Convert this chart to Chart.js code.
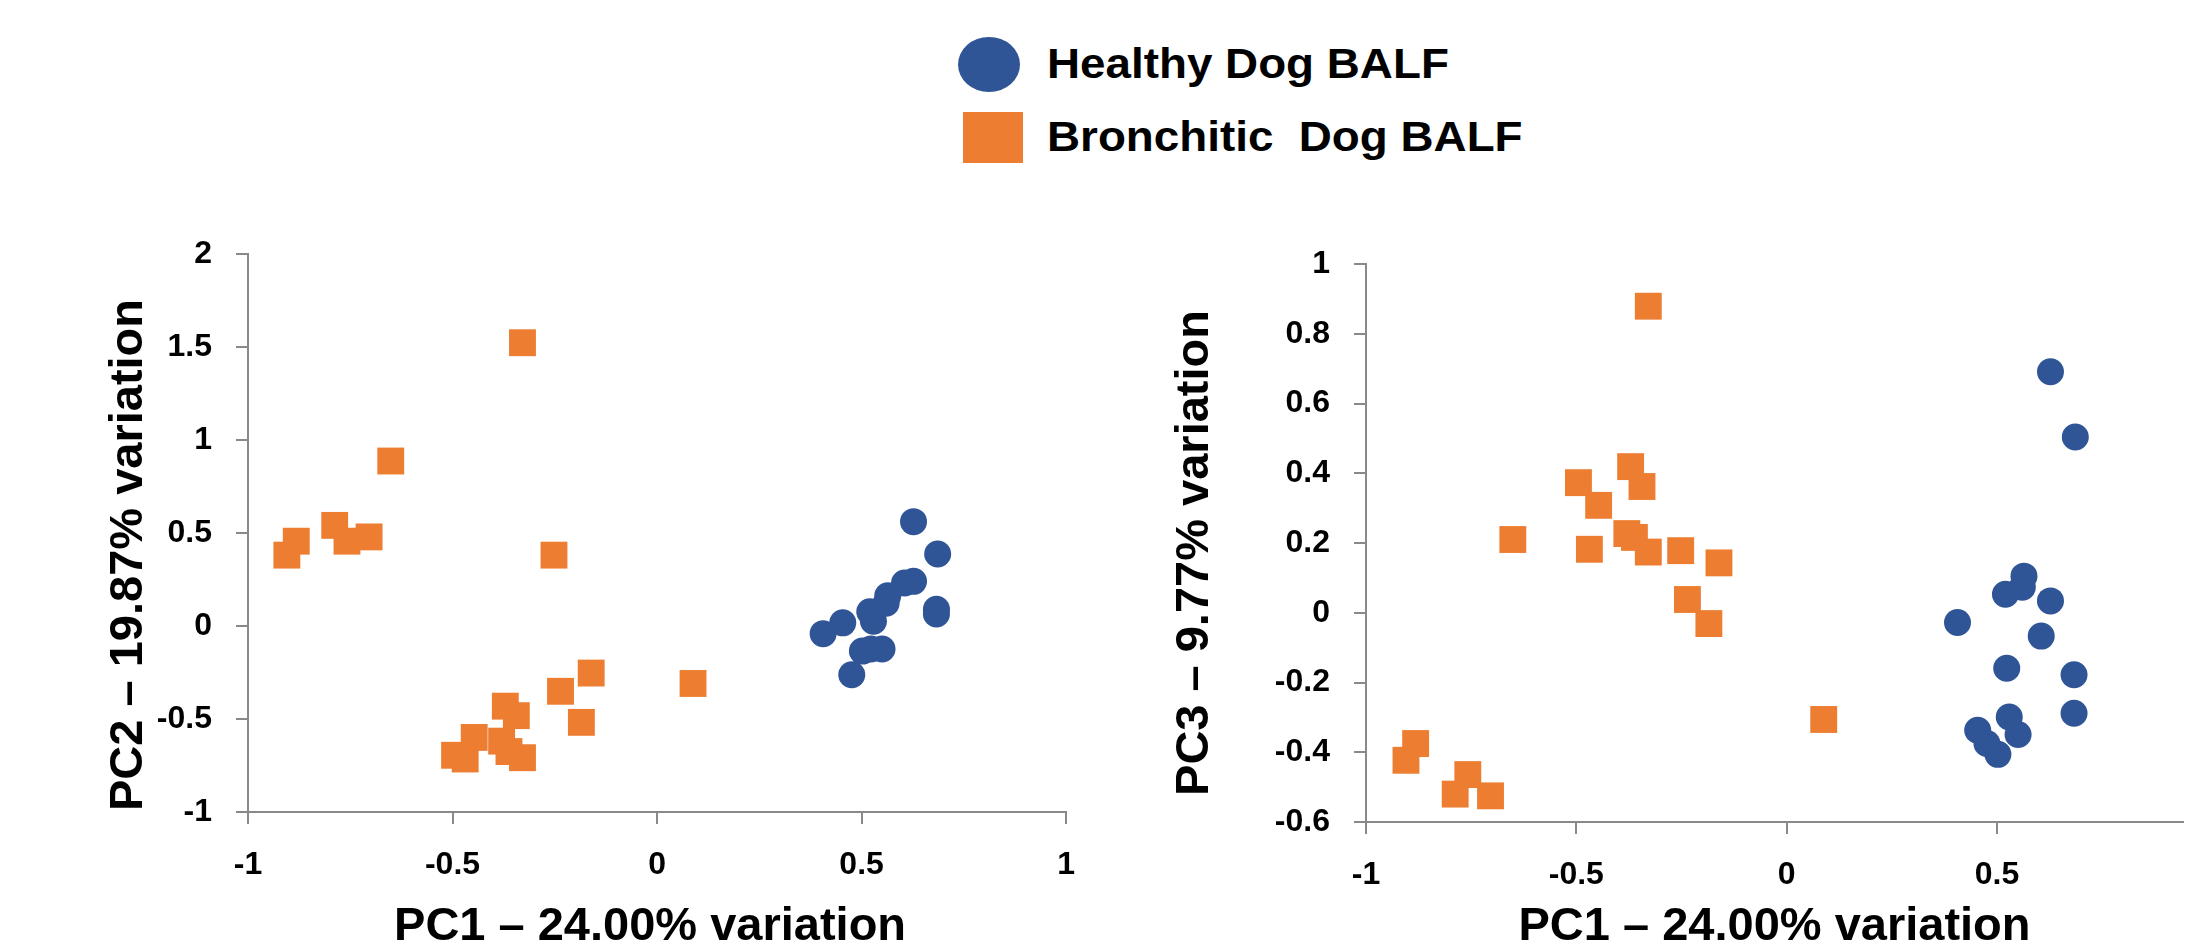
<!DOCTYPE html>
<html>
<head>
<meta charset="utf-8">
<script src="https://cdn.jsdelivr.net/npm/chart.js@4/dist/chart.umd.min.js"></script>
<style>
  body { margin: 0; background: #fff; width: 2202px; height: 949px; overflow: hidden; position: relative; font-family: "Liberation Sans", Arial, sans-serif; }
  canvas { position: absolute; top: 0; }
  #pc2 { left: 0; }
  #pc3 { left: 1100px; }
  .legend { position: absolute; left: 958px; top: 37px; }
  .row { position: absolute; left: 0; height: 60px; }
  .row span { position: absolute; left: 89px; top: 0; font-weight: bold; font-size: 42px; line-height: 60px; white-space: pre; transform: scaleX(1.09); transform-origin: left center; }
  .dot { position: absolute; left: 0; width: 62px; height: 55px; border-radius: 50%; background: #2F5597; }
  .sq { position: absolute; left: 5px; width: 60px; height: 51px; background: #ED7D31; }
</style>
</head>
<body>
<div class="legend">
  <div class="row" style="top:0"><div class="dot" style="top:0"></div><span style="top:-3px">Healthy Dog BALF</span></div>
  <div class="row" style="top:70px"><div class="sq" style="top:5px"></div><span style="top:0">Bronchitic  Dog BALF</span></div>
</div>
<canvas id="pc2" width="1100" height="949"></canvas>
<canvas id="pc3" width="1102" height="949"></canvas>
<script>
// Healthy dogs (blue circles) - same samples on both plots
var healthyPC1 = [0.406, 0.454, 0.476, 0.502, 0.520, 0.523, 0.529, 0.550, 0.560, 0.564, 0.605, 0.627, 0.627, 0.683, 0.683, 0.686];
var healthyPC2 = [-0.041, 0.017, -0.262, -0.135, 0.077, -0.124, 0.026, -0.124, 0.122, 0.162, 0.231, 0.561, 0.240, 0.065, 0.090, 0.387];
var healthyPC3 = [-0.028, -0.337, -0.375, -0.406, 0.053, -0.159, -0.299, -0.349, 0.073, 0.105, -0.067, 0.691, 0.034, -0.178, -0.288, 0.504];

// Bronchitic dogs (orange squares)
var bronchPC1 = [-0.905, -0.882, -0.788, -0.758, -0.704, -0.651, -0.495, -0.469, -0.447, -0.380, -0.371, -0.362, -0.344, -0.329, -0.329, -0.252, -0.236, -0.185, -0.161, 0.088];
var bronchPC2 = [0.381, 0.456, 0.541, 0.456, 0.479, 0.887, -0.695, -0.715, -0.599, -0.619, -0.431, -0.675, -0.482, 1.523, -0.708, 0.381, -0.351, -0.518, -0.253, -0.309];
var bronchPC3 = [-0.423, -0.375, -0.520, -0.464, -0.525, 0.210, 0.373, 0.182, 0.308, 0.227, 0.419, 0.216, 0.362, 0.879, 0.174, 0.178, 0.038, -0.031, 0.143, -0.306];

var xTitle = "PC1 \u2013 24.00% variation";
var pc2Title = "PC2 \u2013 19.87% variation";
var pc3Title = "PC3 \u2013 9.77% variation";

var FONT = '"Liberation Sans", Arial, sans-serif';
var AXIS = '#898989';

function pairs(xs, ys) {
    return xs.map(function (x, i) { return { x: x, y: ys[i] }; });
}

// axis titles in the original sit a little off the axis centre
function shiftedTitle(dx, dy) {
    return function () {
        this.ctx.save();
        this.ctx.translate(dx, dy);
        Object.getPrototypeOf(this).drawTitle.call(this);
        this.ctx.restore();
    };
}

function axis(opts) {
    var draw = shiftedTitle(opts.dx || 0, opts.dy || 0);
    return {
        type: 'linear',
        min: opts.min,
        max: opts.max,
        ticks: {
            stepSize: opts.step,
            includeBounds: false,
            color: '#000',
            padding: opts.pad,
            font: { family: FONT, size: 32, weight: 'bold', lineHeight: 1 },
            callback: function (v) { return String(Number(v.toFixed(2))); }
        },
        grid: { drawOnChartArea: false, drawTicks: true, tickLength: 12, color: AXIS, lineWidth: 2 },
        border: { display: true, color: AXIS, width: 2 },
        title: {
            display: true,
            text: opts.title,
            color: '#000',
            padding: opts.titlePad,
            font: { family: FONT, size: 47, weight: 'bold', lineHeight: 1 }
        },
        afterFit: function (s) {
            opts.fit(s);
            s.drawTitle = draw;
        }
    };
}

function makeChart(id, yVals1, yVals2, cfg) {
    return new Chart(document.getElementById(id), {
        type: 'scatter',
        data: {
            datasets: [{
                label: 'Healthy Dog BALF',
                data: pairs(healthyPC1, yVals1),
                pointStyle: 'circle',
                pointRadius: 13.5,
                backgroundColor: '#2F5597',
                borderWidth: 0
            }, {
                label: 'Bronchitic Dog BALF',
                data: pairs(bronchPC1, yVals2),
                pointStyle: 'rect',
                pointRadius: 19,
                backgroundColor: '#ED7D31',
                borderWidth: 0
            }]
        },
        options: {
            responsive: false,
            animation: false,
            devicePixelRatio: 1,
            layout: { padding: cfg.padding },
            plugins: { legend: { display: false }, tooltip: { enabled: false } },
            scales: {
                x: axis({ min: -1, max: cfg.xMax, step: 0.5, pad: 25, title: xTitle,
                          titlePad: { top: 0, bottom: 0 }, dx: cfg.xTitleDx, dy: 2,
                          fit: function (s) { s.height = cfg.xHeight; } }),
                y: axis({ min: cfg.yMin, max: cfg.yMax, step: cfg.yStep, pad: 24, title: cfg.yTitle,
                          titlePad: { top: cfg.yTitlePad, bottom: 0 }, dy: cfg.yTitleDy,
                          fit: function (s) { s.width = cfg.yWidth; } })
            }
        }
    });
}

// PC1 vs PC2
makeChart('pc2', healthyPC2, bronchPC2, {
    padding: { top: 254, left: 0, right: 28, bottom: 0 },
    xMax: 1, xHeight: 137, xTitleDx: -7,
    yMin: -1, yMax: 2, yStep: 0.5, yTitle: pc2Title, yTitlePad: 106, yWidth: 248, yTitleDy: 22
});

// PC1 vs PC3
makeChart('pc3', healthyPC3, bronchPC3, {
    padding: { top: 264, left: 0, right: 0, bottom: 0 },
    xMax: 0.942, xHeight: 127, xTitleDx: 0,
    yMin: -0.6, yMax: 1, yStep: 0.2, yTitle: pc3Title, yTitlePad: 72, yWidth: 266, yTitleDy: 10
});
</script>
</body>
</html>
